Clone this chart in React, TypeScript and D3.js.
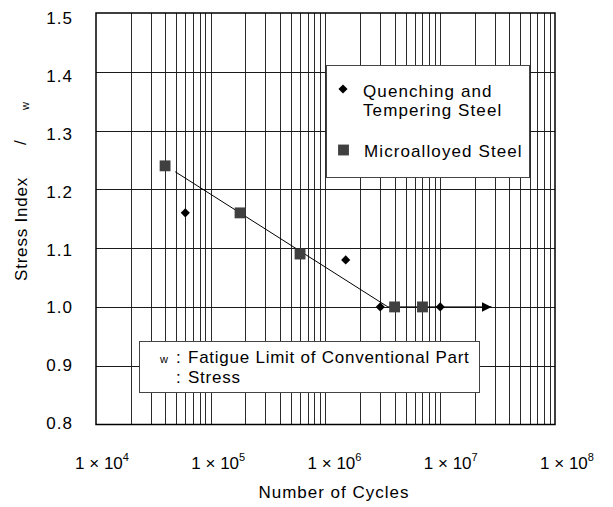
import React, { useEffect, useRef } from 'react';
import * as d3 from 'd3';

// stress index ticks and x label exponents
const yTicks = [0.8, 0.9, 1.0, 1.1, 1.2, 1.3, 1.4, 1.5];
const xExponents = ['4', '5', '6', '7', '8'];

// quenching and tempering steel (diamonds)
const qtCycles = [6e4, 1.5e6, 3e6, 1e7];
const qtStress = [1.16, 1.08, 1.0, 1.0];

// microalloyed steel (squares)
const maCycles = [4e4, 1.8e5, 6e5, 4e6, 7e6];
const maStress = [1.24, 1.16, 1.09, 1.0, 1.0];

// fitted line with arrow
const trendCycles = [4.9e4, 3.5e6, 2.8e7];
const trendStress = [1.23, 1.0, 1.0];

const FONT = '"Liberation Sans", Arial, Helvetica, sans-serif';

const App = () => {
  const svgRef = useRef<SVGSVGElement>(null);

  useEffect(() => {
    drawChart();
  }, []);

  const drawChart = () => {
    const svg = d3.select(svgRef.current);
    svg.selectAll('*').remove();

    const left = 96;
    const right = 555;
    const top = 13;
    const bottom = 424.5;

    const x = d3.scaleLog().domain([1e4, 1e8]).range([left, right]);
    const y = d3.scaleLinear().domain([0.8, 1.5]).range([bottom, top]);
    // tick labels in the source sit slightly off the grid
    const yLab = d3.scaleLinear().domain([0.8, 1.5]).range([423, 18]);
    const xLab = d3.scalePoint().domain(xExponents).range([102, 567]);

    svg
      .append('defs')
      .append('marker')
      .attr('id', 'arrow')
      .attr('viewBox', '0 0 10 10')
      .attr('refX', 10)
      .attr('refY', 5)
      .attr('markerWidth', 10)
      .attr('markerHeight', 10)
      .attr('markerUnits', 'userSpaceOnUse')
      .attr('orient', 'auto')
      .append('path')
      .attr('d', 'M0,0L10,5L0,10Z')
      .attr('fill', '#000');

    const g = svg.append('g');

    // vertical log grid
    const vLines: number[] = [];
    for (let e = 4; e < 8; e++) {
      for (let m = 1; m < 10; m++) {
        if (e === 4 && m === 1) continue;
        vLines.push(m * Math.pow(10, e));
      }
    }
    g.selectAll('.vgrid')
      .data(vLines)
      .enter()
      .append('line')
      .attr('x1', d => Math.round(x(d)) + 0.5)
      .attr('x2', d => Math.round(x(d)) + 0.5)
      .attr('y1', top)
      .attr('y2', bottom)
      .attr('stroke', '#2a2a2a')
      .attr('stroke-width', 1);

    g.selectAll('.hgrid')
      .data(yTicks.slice(1, -1))
      .enter()
      .append('line')
      .attr('x1', left)
      .attr('x2', right)
      .attr('y1', d => Math.round(y(d)) + 0.5)
      .attr('y2', d => Math.round(y(d)) + 0.5)
      .attr('stroke', '#1a1a1a')
      .attr('stroke-width', 1);

    g.append('rect')
      .attr('x', left)
      .attr('y', top)
      .attr('width', right - left)
      .attr('height', bottom - top)
      .attr('fill', 'none')
      .attr('stroke', '#000')
      .attr('stroke-width', 1.5);

    // y tick labels
    g.selectAll('.ylab')
      .data(yTicks)
      .enter()
      .append('text')
      .attr('x', 73)
      .attr('y', d => yLab(d))
      .attr('dy', '0.36em')
      .attr('text-anchor', 'end')
      .attr('font-size', 17)
      .attr('letter-spacing', 1)
      .text(d => d.toFixed(1));

    // x tick labels
    const xl = g
      .selectAll('.xlab')
      .data(xExponents)
      .enter()
      .append('text')
      .attr('x', d => xLab(d) as number)
      .attr('y', 469)
      .attr('text-anchor', 'middle')
      .attr('font-size', 17);
    xl.append('tspan').text('1 \u00d7 10');
    xl.append('tspan')
      .attr('dy', -8)
      .attr('font-size', 11)
      .text(d => d);

    g.append('text')
      .attr('x', 334)
      .attr('y', 498)
      .attr('text-anchor', 'middle')
      .attr('font-size', 17)
      .attr('letter-spacing', 1)
      .text('Number of Cycles');

    // y axis title (greek symbols missing in source)
    g.append('text')
      .attr('transform', 'translate(27,281) rotate(-90)')
      .attr('font-size', 17)
      .attr('letter-spacing', 0.8)
      .text('Stress Index');
    g.append('text')
      .attr('transform', 'translate(26,145) rotate(-90)')
      .attr('font-size', 17)
      .text('/');
    g.append('text')
      .attr('transform', 'translate(29,110) rotate(-90)')
      .attr('font-size', 11)
      .text('w');

    // trend line
    const line = d3
      .line<number>()
      .x((d, i) => x(trendCycles[i]))
      .y(d => y(d));
    g.append('path')
      .attr('d', line(trendStress))
      .attr('fill', 'none')
      .attr('stroke', '#000')
      .attr('stroke-width', 1)
      .attr('marker-end', 'url(#arrow)');

    const diamond = d3.symbol().type(d3.symbolSquare).size(42);
    const square = d3.symbol().type(d3.symbolSquare).size(118);

    g.selectAll('.qt')
      .data(qtCycles)
      .enter()
      .append('path')
      .attr('d', diamond)
      .attr('transform', (d, i) => `translate(${x(d)},${y(qtStress[i])}) rotate(45)`)
      .attr('fill', '#000');

    g.selectAll('.ma')
      .data(maCycles)
      .enter()
      .append('path')
      .attr('d', square)
      .attr('transform', (d, i) => `translate(${x(d)},${y(maStress[i])})`)
      .attr('fill', '#404040');

    // legend
    const lg = g.append('g');
    lg.append('rect')
      .attr('x', 326.5)
      .attr('y', 65.5)
      .attr('width', 203)
      .attr('height', 112)
      .attr('fill', '#fff')
      .attr('stroke', '#444')
      .attr('stroke-width', 1);
    lg.append('path')
      .attr('d', diamond)
      .attr('transform', 'translate(343,89) rotate(45)')
      .attr('fill', '#000');
    lg.append('path')
      .attr('d', square)
      .attr('transform', 'translate(343.5,150)')
      .attr('fill', '#404040');
    const lt = lg.append('text').attr('font-size', 17).attr('letter-spacing', 1.1);
    lt.append('tspan').attr('x', 363).attr('y', 97).text('Quenching and');
    lt.append('tspan').attr('x', 363).attr('y', 116).text('Tempering Steel');
    lg.append('text')
      .attr('x', 364)
      .attr('y', 157)
      .attr('font-size', 17)
      .attr('letter-spacing', 1.1)
      .text('Microalloyed Steel');

    // note box
    const nb = g.append('g');
    nb.append('rect')
      .attr('x', 139.5)
      .attr('y', 341.5)
      .attr('width', 340)
      .attr('height', 51)
      .attr('fill', '#fff')
      .attr('stroke', '#444')
      .attr('stroke-width', 1);
    nb.append('text').attr('x', 160).attr('y', 362.5).attr('font-size', 11).text('w');
    nb.append('text').attr('x', 176).attr('y', 363).attr('font-size', 17).text(':');
    nb.append('text')
      .attr('x', 188)
      .attr('y', 363)
      .attr('font-size', 17)
      .attr('letter-spacing', 0.75)
      .text('Fatigue Limit of Conventional Part');
    nb.append('text').attr('x', 176).attr('y', 383).attr('font-size', 17).text(':');
    nb.append('text')
      .attr('x', 188)
      .attr('y', 383)
      .attr('font-size', 17)
      .attr('letter-spacing', 0.75)
      .text('Stress');
  };

  return (
    <svg
      ref={svgRef}
      width={613}
      height={507}
      style={{ position: 'absolute', left: 0, top: 0, background: '#fff', fontFamily: FONT }}
    ></svg>
  );
};

export default App;
